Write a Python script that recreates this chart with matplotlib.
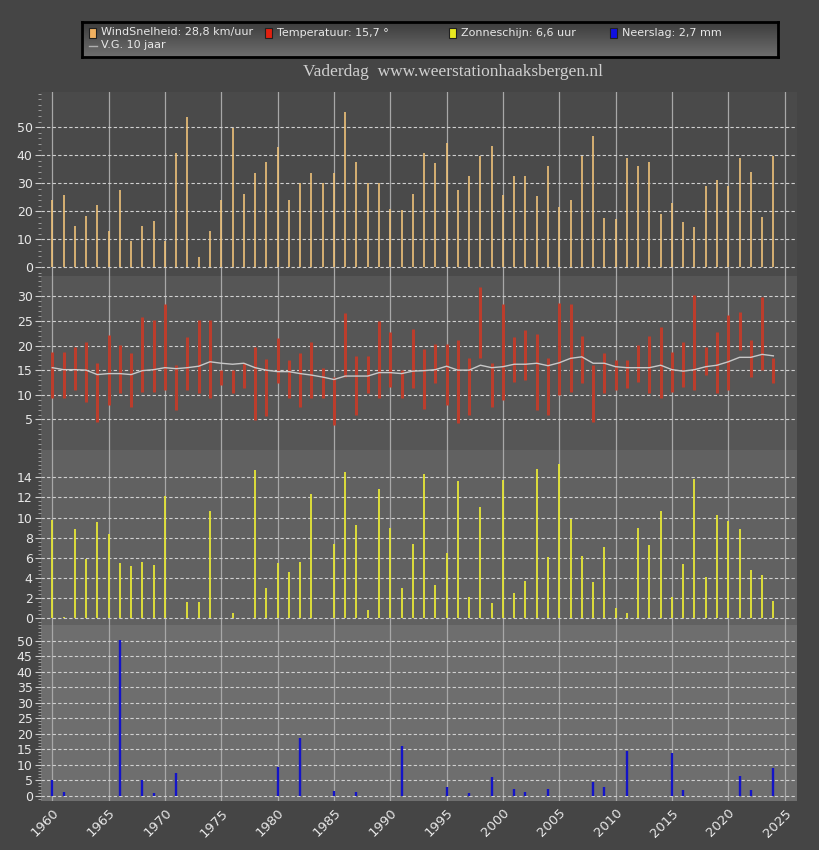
import numpy as np
import matplotlib
matplotlib.use("Agg")
import matplotlib.pyplot as plt
from matplotlib.ticker import MultipleLocator, AutoMinorLocator
from matplotlib.patches import Rectangle

# Vaderdag, weerstation Haaksbergen 1960-2024
years = list(range(1960, 2025))

wind = [24.0, 25.8, 14.9, 18.3, 22.2, 13.0, 27.6, 9.4, 14.9, 16.5,
        9.5, 40.9, 53.8, 3.8, 13.0, 24.0, 49.9, 26.1, 33.8, 37.5,
        42.9, 24.0, 30.0, 33.8, 30.0, 33.8, 55.6, 37.5, 30.0, 30.0,
        20.9, 20.5, 26.1, 40.9, 37.4, 44.3, 27.6, 32.6, 39.9, 43.4,
        25.7, 32.6, 32.6, 25.5, 36.2, 21.4, 24.0, 39.9, 46.9, 17.5,
        17.3, 38.9, 36.2, 37.7, 19.0, 22.8, 16.1, 14.3, 29.0, 31.2,
        29.0, 38.9, 34.1, 17.9, 39.9]

tmax = [18.7, 18.7, 19.7, 20.7, 16.4, 22.1, 20.1, 18.5, 25.8, 25.1,
        28.4, 16.0, 21.8, 25.1, 25.1, 15.0, 15.0, 16.4, 19.7, 17.2,
        21.6, 17.0, 18.5, 20.7, 15.5, 13.6, 26.5, 17.8, 17.8, 25.0,
        22.8, 15.0, 23.3, 19.3, 20.4, 20.4, 21.1, 17.4, 31.8, 16.4,
        28.4, 21.8, 23.1, 22.4, 17.4, 28.7, 28.4, 21.9, 16.0, 18.4,
        17.0, 17.0, 20.1, 21.9, 23.8, 18.7, 20.7, 30.2, 19.7, 22.8,
        26.2, 26.8, 21.2, 29.9, 17.4]

tmin = [9.3, 9.3, 10.9, 8.6, 4.5, 7.9, 10.3, 7.6, 10.6, 10.6,
        10.9, 6.9, 10.9, 10.3, 9.3, 12.0, 10.3, 11.3, 4.9, 5.7,
        12.3, 9.3, 7.6, 9.3, 9.3, 3.8, 13.6, 5.9, 10.3, 9.3,
        11.6, 9.3, 11.3, 7.2, 12.3, 7.9, 4.2, 5.9, 17.4, 7.6,
        8.9, 12.6, 13.0, 6.9, 5.9, 9.9, 10.6, 12.3, 4.5, 10.3,
        10.9, 11.3, 12.6, 10.3, 9.3, 10.6, 11.6, 10.9, 14.0, 10.3,
        10.9, 19.1, 13.6, 15.0, 12.3]

vg10 = [15.5, 15.1, 15.1, 15.0, 14.1, 14.3, 14.3, 14.1, 14.9, 15.1,
        15.5, 15.3, 15.5, 15.8, 16.7, 16.4, 16.2, 16.4, 15.5, 15.0,
        14.7, 14.7, 14.3, 14.0, 13.6, 13.1, 13.8, 13.8, 13.8, 14.5,
        14.5, 14.3, 14.8, 14.9, 15.1, 15.8, 15.0, 15.0, 16.0, 15.5,
        15.7, 16.2, 16.2, 16.4, 15.9, 16.5, 17.4, 17.7, 16.4, 16.4,
        15.7, 15.5, 15.5, 15.5, 16.0, 15.1, 14.8, 15.1, 15.7, 16.0,
        16.7, 17.6, 17.6, 18.2, 17.9]

zon = [9.8, 0.1, 8.9, 5.9, 9.6, 8.4, 5.5, 5.2, 5.6, 5.3,
       12.1, 0, 1.65, 1.65, 10.65, 0, 0.55, 0, 14.7, 3.0,
       5.5, 4.6, 5.6, 12.3, 0, 7.4, 14.5, 9.3, 0.8, 12.8,
       9.0, 3.0, 7.4, 14.3, 3.3, 6.45, 13.6, 2.1, 11.0, 1.55,
       13.7, 2.5, 3.7, 14.8, 6.05, 15.3, 9.9, 6.2, 3.6, 7.1,
       1.0, 0.55, 9.0, 7.3, 10.65, 2.1, 5.4, 13.8, 4.1, 10.2,
       9.7, 8.9, 4.8, 4.3, 1.75]

regen = [5.1, 1.3, 0, 0, 0, 0, 50.2, 0, 5.2, 1.0,
         0, 7.4, 0, 0, 0, 0, 0, 0, 0, 0,
         9.2, 0, 18.5, 0, 0, 1.6, 0, 1.3, 0, 0,
         0, 16.0, 0, 0, 0, 2.7, 0, 1.0, 0, 5.9,
         0, 2.1, 1.1, 0, 2.2, 0, 0, 0, 4.5, 2.7,
         0, 14.4, 0, 0, 0, 13.9, 1.8, 0, 0, 0,
         0, 6.5, 1.8, 0, 9.0]

legend_items = ["WindSnelheid: 28,8 km/uur", "Temperatuur: 15,7 °",
                "Zonneschijn: 6,6 uur", "Neerslag: 2,7 mm"]
legend_kleuren = ["#f0b060", "#e02010", "#e8e820", "#1010e0"]

txtkleur = "#e8e8e8"
plt.rcParams['font.family'] = ['DejaVu Sans']

fig = plt.figure(figsize=(8.2, 8.5), dpi=100, facecolor="#454545")

L, W = 41/820, 756/820
def pos(top, bot):
    return [L, 1 - bot/850, W, (bot - top)/850]

ax1 = fig.add_axes(pos(92, 276), facecolor="#4a4a4a")
ax2 = fig.add_axes(pos(276, 450), facecolor="#565656", sharex=ax1)
ax3 = fig.add_axes(pos(450, 625), facecolor="#616161", sharex=ax1)
ax4 = fig.add_axes(pos(625, 801), facecolor="#6e6e6e", sharex=ax1)

ax1.vlines(years, 0, wind, color="#eec27a", lw=1.2)
ax2.vlines(years, tmin, tmax, color="#bc3d2c", lw=2.2)
ax2.plot(years, vg10, color="#c8c8c8", lw=1)
ax3.vlines(years, 0, zon, color="#e6e636", lw=1.3)
ax4.vlines(years, 0, regen, color="#1414c8", lw=1.7)

ax1.set_ylim(-3.1, 62.6)
ax2.set_ylim(-1.2, 34.1)
ax3.set_ylim(-0.67, 16.7)
ax4.set_ylim(-1.7, 55.1)
ax1.set_xlim(1959.0, 2026.1)

ax1.yaxis.set_major_locator(MultipleLocator(10))
ax2.yaxis.set_major_locator(MultipleLocator(5))
ax3.yaxis.set_major_locator(MultipleLocator(2))
ax4.yaxis.set_major_locator(MultipleLocator(5))

hoogste = [50, 30, 14, 50]
laagste = [0, 5, 0, 0]
for ax, hi, lo in zip([ax1, ax2, ax3, ax4], hoogste, laagste):
    ax.set_yticks([t for t in ax.get_yticks() if lo <= t <= hi])
    ax.yaxis.set_minor_locator(AutoMinorLocator(5))
    for s in ax.spines.values():
        s.set_visible(False)
    ax.set_axisbelow(True)
    ax.yaxis.grid(True, color="#d0d0d0", ls=(0, (3, 2)), lw=0.8)
    ax.xaxis.grid(True, color="#a8a8a8", lw=0.9)
    ax.tick_params(axis="y", colors="#cccccc", labelcolor=txtkleur, labelsize=9,
                   length=4, pad=2)
    ax.tick_params(axis="y", which="minor", colors="#aaaaaa", length=2)
    ax.tick_params(axis="x", length=0)

ax1.xaxis.set_major_locator(MultipleLocator(5))
for ax in [ax1, ax2, ax3]:
    ax.tick_params(axis="x", labelbottom=False)
ax4.tick_params(axis="x", labelcolor=txtkleur, labelsize=9.5, pad=4)
for lab in ax4.get_xticklabels():
    lab.set_rotation(45)
    lab.set_ha("right")
    lab.set_rotation_mode("anchor")

# titel
fig.text(453/820, 1 - 72/850, "Vaderdag  www.weerstationhaaksbergen.nl",
         family="Liberation Serif", fontsize=12.5, color="#d0d0d0",
         ha="center", va="center")

# legenda
lg = fig.add_axes([82/820, 1 - 57/850, 696/820, 35/850])
grad = np.linspace(0, 1, 50).reshape(-1, 1)
lg.imshow(grad, cmap=matplotlib.colors.LinearSegmentedColormap.from_list(
    "g", ["#3c3c3c", "#6e6e6e"]), aspect="auto", extent=[0, 696, 35, 0])
lg.set_xlim(0, 696)
lg.set_ylim(35, 0)
lg.set_xticks([])
lg.set_yticks([])
for s in lg.spines.values():
    s.set_color("#000000")
    s.set_linewidth(2)
xs = [7, 183, 367, 528]
for x, naam, kl in zip(xs, legend_items, legend_kleuren):
    lg.add_patch(Rectangle((x, 5.5), 7, 10, facecolor=kl, edgecolor="#202020", lw=0.8))
    lg.text(x + 12, 10.5, naam, color=txtkleur, fontsize=8, va="center")
lg.plot([7, 15], [23.5, 23.5], color="#b0b0b0", lw=1)
lg.text(19, 23.5, "V.G. 10 jaar", color=txtkleur, fontsize=8, va="center")

fig.savefig("out.png", dpi=100, facecolor=fig.get_facecolor())
